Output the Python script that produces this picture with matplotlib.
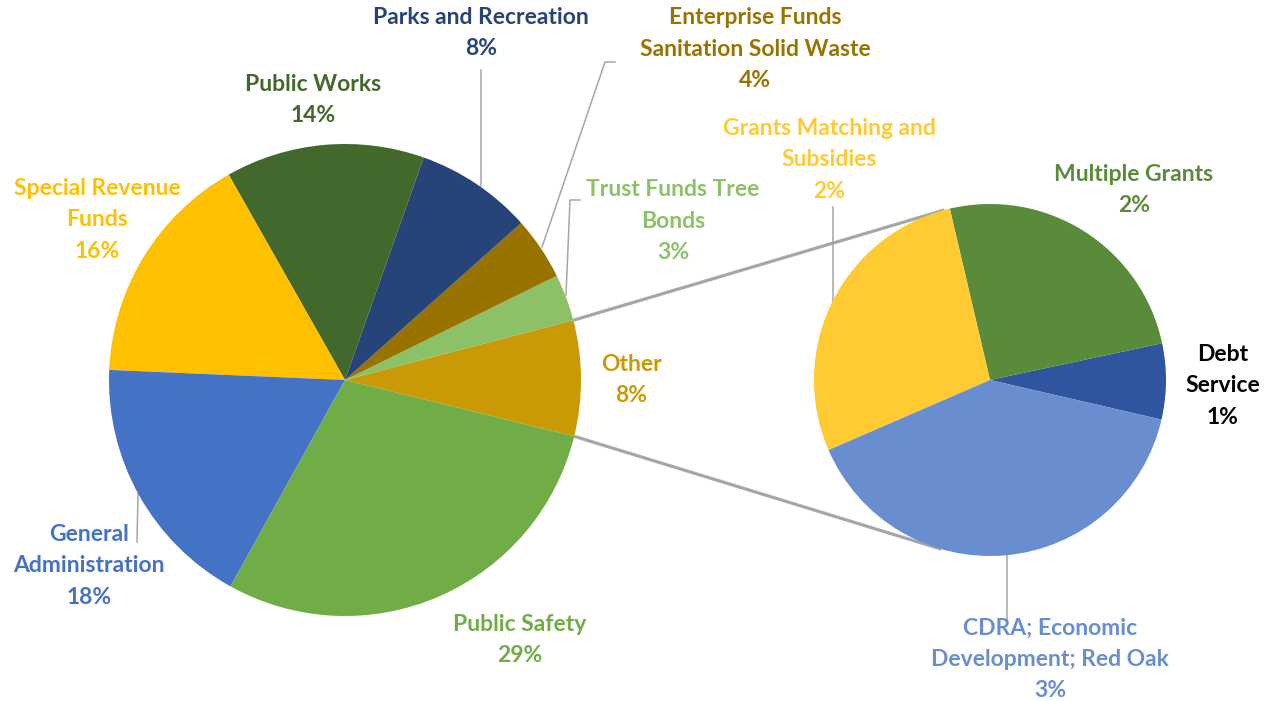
import numpy as np
import matplotlib.pyplot as plt

W, H = 1275, 701

# main pie, counterclockwise starting with "Other" on the right
main_labels = ["Other", "Trust Funds Tree\nBonds", "Enterprise Funds\nSanitation Solid Waste",
               "Parks and Recreation", "Public Works", "Special Revenue\nFunds",
               "General\nAdministration", "Public Safety"]
main_values = [7.9, 3.2, 4.3, 8.0, 13.6, 16.1, 17.6, 29.2]
main_colors = ["#C99A06", "#8CC168", "#997300", "#264478", "#43682B", "#FFC000", "#4472C4", "#70AD47"]

# breakdown of "Other"
sub_labels = ["Debt\nService", "Multiple Grants", "Grants Matching and\nSubsidies",
              "CDRA; Economic\nDevelopment; Red Oak"]
sub_values = [0.55, 2.0, 2.2, 3.15]
sub_colors = ["#2F559F", "#5A8B3B", "#FFCA32", "#698ED0"]
sub_text_colors = ["black", "#5A8B3B", "#FFCA32", "#698ED0"]

# label centres in pixels (y from top)
main_pos = [(631, 380), (673, 221), (755, 49), (481, 33), (313, 100), (97, 220), (89, 566), (520, 640)]
sub_pos = [(1223, 386), (1134, 190), (829, 160), (1050, 659)]

# leader lines in pixels (y from top)
leaders = [
    [(481, 70), (481, 186)],
    [(615, 62), (605, 62), (542, 247)],
    [(580, 200), (570, 200), (566, 295)],
    [(137, 542), (138, 494)],
    [(833, 207), (833, 302)],
    [(1007, 553), (1007, 620)],
]

main_c, main_r, main_start = (345, 380), 236, -13.8
sub_c, sub_r, sub_start = (990, 380), 176, -13.0

fig = plt.figure(figsize=(12.75, 7.01), dpi=100)
ax = fig.add_axes([0, 0, 1, 1])

ax.pie(main_values, colors=main_colors, startangle=main_start, counterclock=True,
       center=(main_c[0], H - main_c[1]), radius=main_r, wedgeprops=dict(linewidth=0))
ax.pie(sub_values, colors=sub_colors, startangle=sub_start, counterclock=True,
       center=(sub_c[0], H - sub_c[1]), radius=sub_r, wedgeprops=dict(linewidth=0))

# connector lines between "Other" and the second pie
a1 = np.radians(main_start)
a2 = np.radians(main_start + main_values[0] / sum(main_values) * 360)
for a_main, a_sub in [(a2, np.radians(105)), (a1, np.radians(254))]:
    x0 = main_c[0] + main_r * np.cos(a_main)
    y0 = H - main_c[1] + main_r * np.sin(a_main)
    x1 = sub_c[0] + sub_r * np.cos(a_sub)
    y1 = H - sub_c[1] + sub_r * np.sin(a_sub)
    ax.plot([x0, x1], [y0, y1], color="#A6A6A6", lw=2.3, solid_capstyle="butt", zorder=0)

for pts in leaders:
    xs = [p[0] for p in pts]
    ys = [H - p[1] for p in pts]
    ax.plot(xs, ys, color="#A6A6A6", lw=1.1, zorder=0)

total = sum(main_values)
font = dict(family="Lato", fontsize=16.5, fontweight="bold", ha="center", va="center", linespacing=1.6)
for lab, v, col, (x, y) in zip(main_labels, main_values, main_colors, main_pos):
    ax.text(x, H - y, f"{lab}\n{round(v / total * 100)}%", color=col, **font)
for lab, v, col, (x, y) in zip(sub_labels, sub_values, sub_text_colors, sub_pos):
    ax.text(x, H - y, f"{lab}\n{round(v / total * 100)}%", color=col, **font)

ax.set_xlim(0, W)
ax.set_ylim(0, H)
ax.set_aspect("equal")
ax.axis("off")

fig.savefig("out.png", dpi=100, facecolor="white")
